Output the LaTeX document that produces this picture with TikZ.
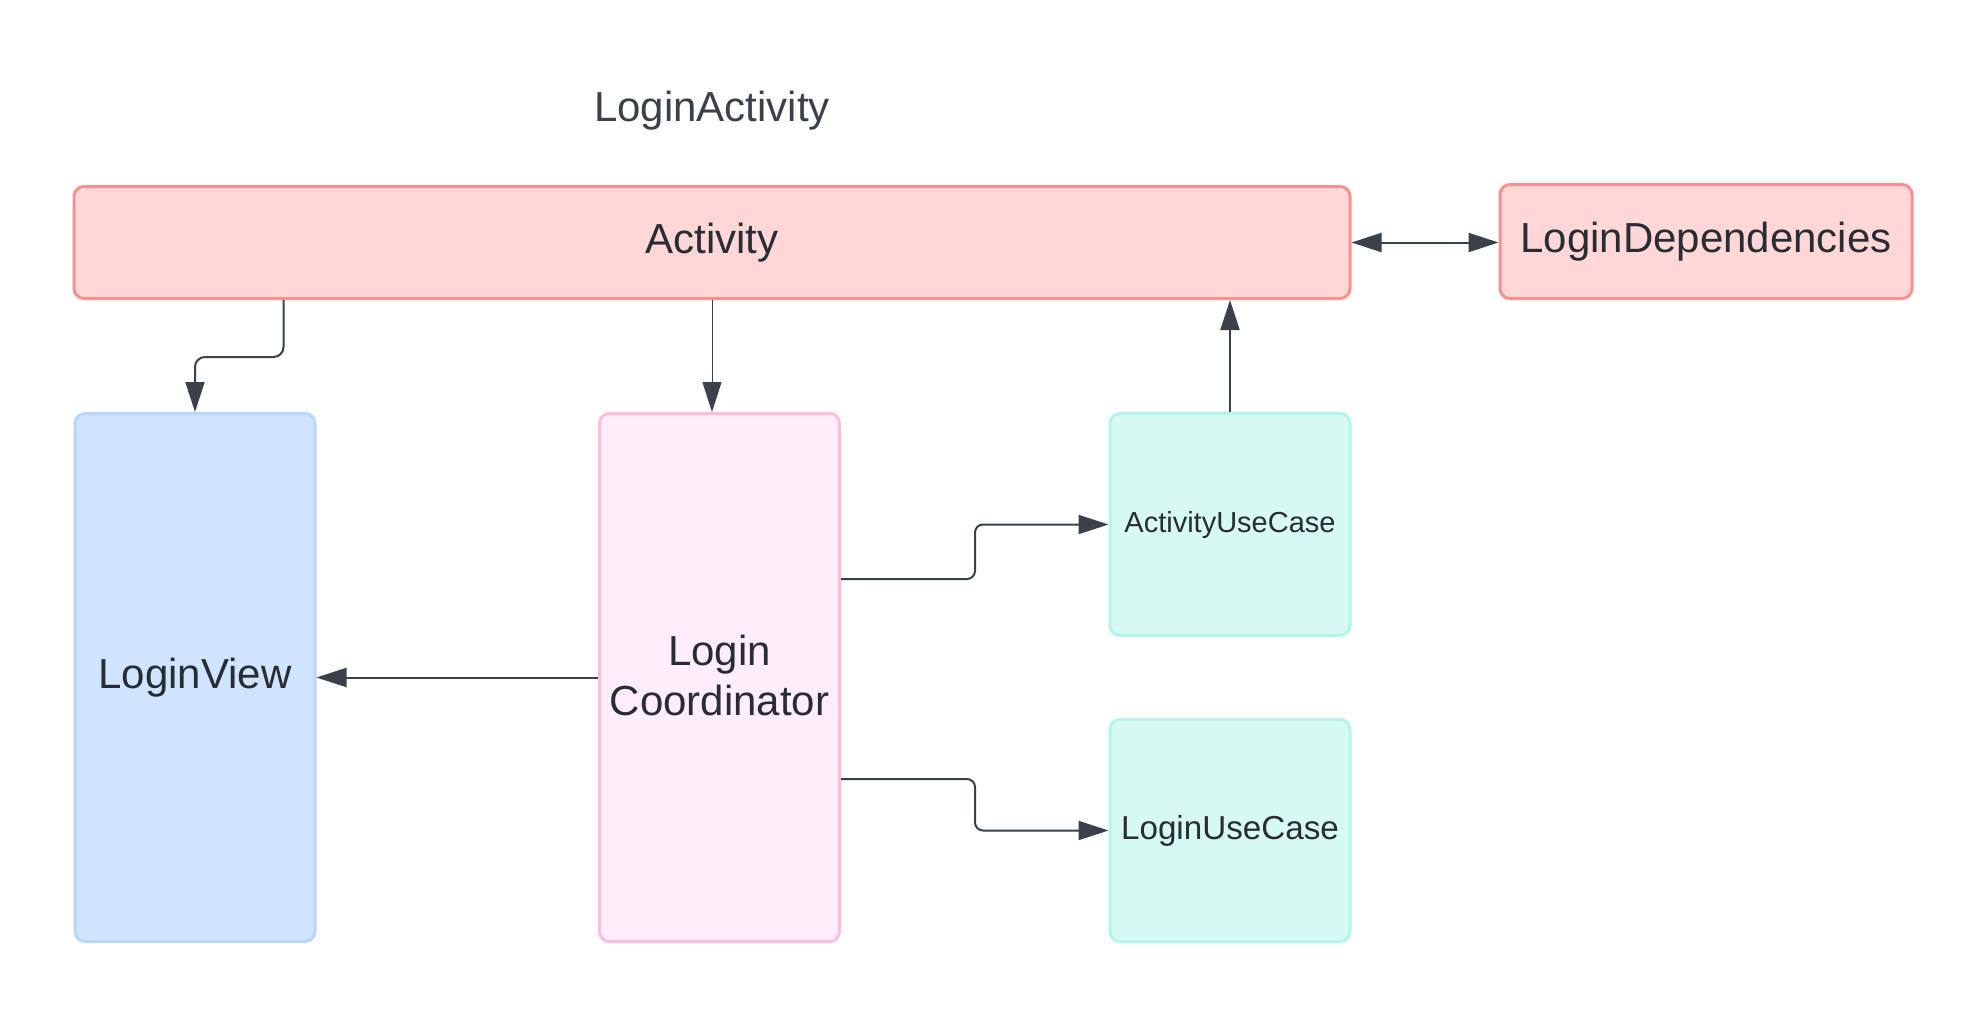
\documentclass[tikz,border=0pt]{standalone}
\usepackage{fontspec}
\setmainfont{Liberation Sans}
\usetikzlibrary{arrows.meta}
\definecolor{txt}{HTML}{282C33}
\definecolor{arr}{HTML}{3A414A}
\definecolor{redfill}{HTML}{FFD7D7}
\definecolor{redline}{HTML}{FF8F8F}
\definecolor{bluefill}{HTML}{CFE4FF}
\definecolor{blueline}{HTML}{B6D7FF}
\definecolor{pinkfill}{HTML}{FFEDF9}
\definecolor{pinkline}{HTML}{FFBDDC}
\definecolor{tealfill}{HTML}{D6F9F2}
\definecolor{tealline}{HTML}{B3F5EB}
\tikzset{
  box/.style={draw, line width=1.5pt, rounded corners=5pt, inner sep=0pt,
    align=center, text=txt, font=\fontsize{21}{25}\selectfont},
  redbox/.style={box, fill=redfill, draw=redline},
  bluebox/.style={box, fill=bluefill, draw=blueline},
  pinkbox/.style={box, fill=pinkfill, draw=pinkline},
  tealbox/.style={box, fill=tealfill, draw=tealline},
  conn/.style={draw=arr, line width=1pt, rounded corners=4pt,
    -{Triangle[length=15pt,width=9.5pt]}, fill=none},
}
\begin{document}
\begin{tikzpicture}[x=0.5pt,y=-0.5pt]
\useasboundingbox (0,0) rectangle (1988,1018);
\fill[white] (0,0) rectangle (1988,1018);

\node[text=arr, font=\fontsize{21}{25}\selectfont] (title) at (712,111) {LoginActivity};

\node[redbox, minimum width=638pt, minimum height=56pt] (act) at (712,242.5) {Activity};
\node[redbox, minimum width=206pt, minimum height=57pt] (ld) at (1706,241.5) {LoginDependencies};
\node[bluebox, minimum width=120pt, minimum height=264pt] (lv) at (195,677.5) {LoginView};
\node[pinkbox, minimum width=120pt, minimum height=264pt] (coord) at (719.5,677.5) {\raisebox{2pt}{Login}\\\raisebox{2pt}{Coordinator}};
\node[tealbox, minimum width=120pt, minimum height=111pt, font=\fontsize{14.5}{17}\selectfont] (auc) at (1230,524.5) {ActivityUseCase};
\node[tealbox, minimum width=120pt, minimum height=111pt, font=\fontsize{16.6}{19}\selectfont] (luc) at (1230,830.5) {LoginUseCase};

% connectors
\draw[conn, rounded corners=5pt] (act.south west) ++(211,0) -- ++(0,57) -| (lv.north);
\draw[conn, line width=0.5pt] (act.south) -- (act.south |- coord.north);
\draw[conn] (auc.north) -- (auc.north |- act.south);
\draw[conn, {Triangle[length=15pt,width=9.5pt]}-{Triangle[length=15pt,width=9.5pt]}] (act.east) -- (act.east -| ld.west);
\draw[conn] (coord.east) ++(0,-98.5) -- ++(134,0) |- (auc.west);
\draw[conn] (coord.east) ++(0,101.5) -- ++(134,0) |- (luc.west);
\draw[conn] (coord.west) -- (lv.east);
\end{tikzpicture}
\end{document}
